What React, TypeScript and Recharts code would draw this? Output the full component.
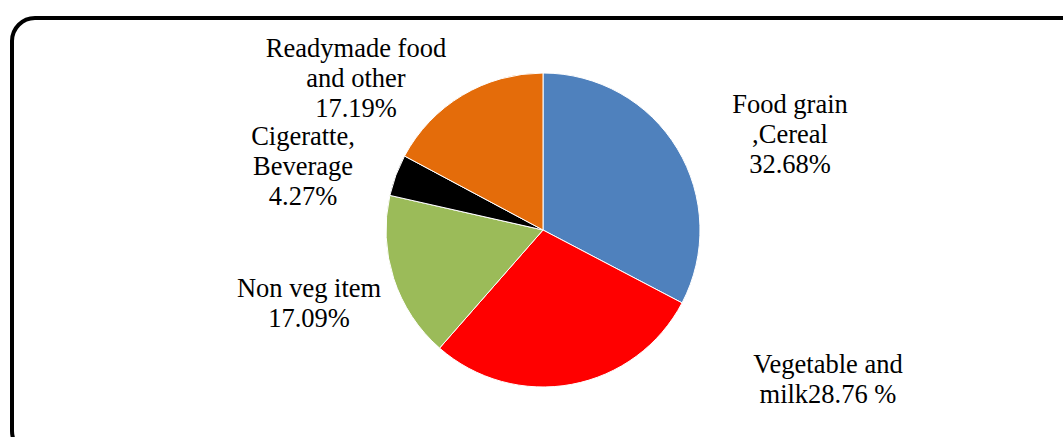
import React from "react";
import { PieChart, Pie, Cell } from "recharts";

const categories = [
  "Food grain ,Cereal",
  "Vegetable and milk",
  "Non veg item",
  "Cigeratte, Beverage",
  "Readymade food and other",
];
const shares = [32.68, 28.76, 17.09, 4.27, 17.19];
const labelLines = [
  ["Food grain", ",Cereal", "32.68%"],
  ["Vegetable and", "milk28.76 %"],
  ["Non veg item", "17.09%"],
  ["Cigeratte,", "Beverage", "4.27%"],
  ["Readymade food", "and other", "17.19%"],
];
const colors = ["#4F81BD", "#FF0000", "#9BBB59", "#000000", "#E46C0A"];
// label anchor offsets (layout) relative to pie centre: first baseline
const labelOffsets = [
  [247, -117],
  [285, 143],
  [-234, 67],
  [-240, -85],
  [-187, -173],
];

const data = categories.map((name, i) => ({ name, value: shares[i] }));

const LINE_H = 30;

const renderLabel = (props: any) => {
  const { cx, cy, index } = props;
  const [dx, dy] = labelOffsets[index];
  const x = cx + dx;
  const y = cy + dy;
  return (
    <text
      x={x}
      y={y}
      textAnchor="middle"
      fill="#000"
      fontFamily="'Liberation Serif', 'Times New Roman', serif"
      fontSize={26.5}
    >
      {labelLines[index].map((l, j) => (
        <tspan key={j} x={x} y={y + j * LINE_H}>
          {l}
        </tspan>
      ))}
    </text>
  );
};

export default function App() {
  return (
    <div
      style={{
        position: "absolute",
        left: 0,
        top: 0,
        width: 1063,
        height: 437,
        overflow: "hidden",
        background: "#fff",
      }}
    >
      <div
        style={{
          position: "absolute",
          left: 10,
          top: 16,
          width: 1080,
          height: 440,
          border: "4px solid #000",
          borderRadius: 25,
          boxSizing: "border-box",
        }}
      />
      <div style={{ position: "absolute", left: 0, top: 0 }}>
        <PieChart
          width={1063}
          height={437}
          margin={{ top: 0, right: 0, bottom: 0, left: 0 }}
        >
          <Pie
            data={data}
            dataKey="value"
            nameKey="name"
            cx={543}
            cy={230}
            outerRadius={157}
            startAngle={90}
            endAngle={-270}
            stroke="#fff"
            strokeWidth={1}
            label={renderLabel}
            labelLine={false}
            isAnimationActive={false}
          >
            {data.map((d, i) => (
              <Cell key={d.name} fill={colors[i]} />
            ))}
          </Pie>
        </PieChart>
      </div>
    </div>
  );
}
